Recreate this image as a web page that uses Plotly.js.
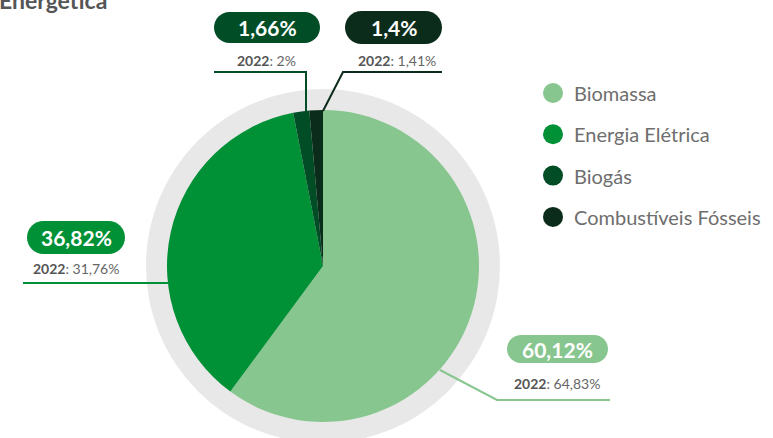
<!DOCTYPE html>
<html><head><meta charset="utf-8">
<script src="https://cdn.plot.ly/plotly-3.0.1.min.js"></script>
<style>html,body{margin:0;padding:0;background:#fff}#chart{width:773px;height:438px}</style>
</head><body><div id="chart"></div>
<script>
// ---- data ----
const labels = ['Biomassa', 'Energia Elétrica', 'Biogás', 'Combustíveis Fósseis'];
const values = [60.12, 36.82, 1.66, 1.4];
const values2022 = ['64,83%', '31,76%', '2%', '1,41%'];
const colors = ['#88c68f', '#009036', '#004d26', '#0c2c1b'];
const titleText = 'Energética';

// ---- layout helpers (pixel -> paper) ----
const W = 773, H = 438;
const px = x => x / W, py = y => 1 - y / H;
const P = (x, y) => px(x) + ',' + py(y);
function pill(x0, y0, x1, y1) {
  const r = (y1 - y0) / 2, k = 0.5523 * r, yc = (y0 + y1) / 2;
  return 'M' + P(x0 + r, y0) + ' L' + P(x1 - r, y0) +
    ' C' + P(x1 - r + k, y0) + ' ' + P(x1, yc - k) + ' ' + P(x1, yc) +
    ' C' + P(x1, yc + k) + ' ' + P(x1 - r + k, y1) + ' ' + P(x1 - r, y1) +
    ' L' + P(x0 + r, y1) +
    ' C' + P(x0 + r - k, y1) + ' ' + P(x0, yc + k) + ' ' + P(x0, yc) +
    ' C' + P(x0, yc - k) + ' ' + P(x0 + r - k, y0) + ' ' + P(x0 + r, y0) + ' Z';
}
function poly(pts) { return 'M' + pts.map(p => P(p[0], p[1])).join(' L'); }

// label placement (pixels)
const place = [
  {box: [507, 335, 608, 363], sub: [557, 383], line: [[610, 400], [497, 400], [440, 370]]},
  {box: [27, 221, 125, 254], sub: [76, 268], line: [[23, 283], [170, 283]]},
  {box: [214, 12, 320, 43], sub: [266, 61], line: [[214, 72], [306, 72], [306, 112]]},
  {box: [345, 11, 442, 44], sub: [397, 61], line: [[442, 72], [343, 72], [323, 111]]}
];

const cx = 323, cy = 266, R = 156, Rring = 177;
const shapes = [{
  type: 'circle', layer: 'below', xref: 'paper', yref: 'paper',
  x0: px(cx - Rring), x1: px(cx + Rring), y0: py(cy + Rring), y1: py(cy - Rring),
  fillcolor: '#e8e8e8', line: {width: 0}
}];
const annotations = [{
  xref: 'paper', yref: 'paper', x: px(-3), y: py(0), xanchor: 'left', yanchor: 'middle',
  text: '<b>' + titleText + '</b>', showarrow: false,
  font: {family: 'Lato, sans-serif', size: 23, color: '#555'}
}];

labels.forEach((lab, i) => {
  const pl = place[i];
  const [x0, y0, x1, y1] = pl.box;
  shapes.push({type: 'path', xref: 'paper', yref: 'paper', path: poly(pl.line),
    line: {color: colors[i], width: 2}});
  shapes.push({type: 'path', xref: 'paper', yref: 'paper', path: pill(x0, y0, x1, y1),
    fillcolor: colors[i], line: {width: 0}});
  annotations.push({xref: 'paper', yref: 'paper', x: px((x0 + x1) / 2), y: py((y0 + y1) / 2),
    xanchor: 'center', yanchor: 'middle', showarrow: false,
    text: '<b>' + String(values[i]).replace('.', ',') + '%</b>',
    font: {family: 'Lato, sans-serif', size: 21, color: '#ffffff'}});
  annotations.push({xref: 'paper', yref: 'paper', x: px(pl.sub[0]), y: py(pl.sub[1]),
    xanchor: 'center', yanchor: 'middle', showarrow: false,
    text: '<b><span style="color:#555">2022</span></b>: ' + values2022[i],
    font: {family: 'Lato, sans-serif', size: 14, color: '#666'}});
  // legend
  const ly = 93 + i * 41.3;
  shapes.push({type: 'circle', xref: 'paper', yref: 'paper',
    x0: px(543), x1: px(563), y0: py(ly + 10), y1: py(ly - 10),
    fillcolor: colors[i], line: {width: 0}});
  annotations.push({xref: 'paper', yref: 'paper', x: px(572), y: py(ly),
    xanchor: 'left', yanchor: 'middle', showarrow: false, text: lab,
    font: {family: 'Lato, sans-serif', size: 20, color: '#6e6e6e'}});
});

const trace = {
  type: 'pie', labels: labels, values: values, sort: false,
  direction: 'clockwise', rotation: 0, textinfo: 'none', hoverinfo: 'label+percent',
  marker: {colors: colors, line: {width: 0}},
  domain: {x: [px(cx - R), px(cx + R)], y: [py(cy + R), py(cy - R)]},
  showlegend: false
};

Plotly.newPlot('chart', [trace], {
  width: W, height: H, margin: {l: 0, r: 0, t: 0, b: 0},
  paper_bgcolor: '#fff', showlegend: false,
  shapes: shapes, annotations: annotations
}, {displayModeBar: false, staticPlot: true});
</script></body></html>
